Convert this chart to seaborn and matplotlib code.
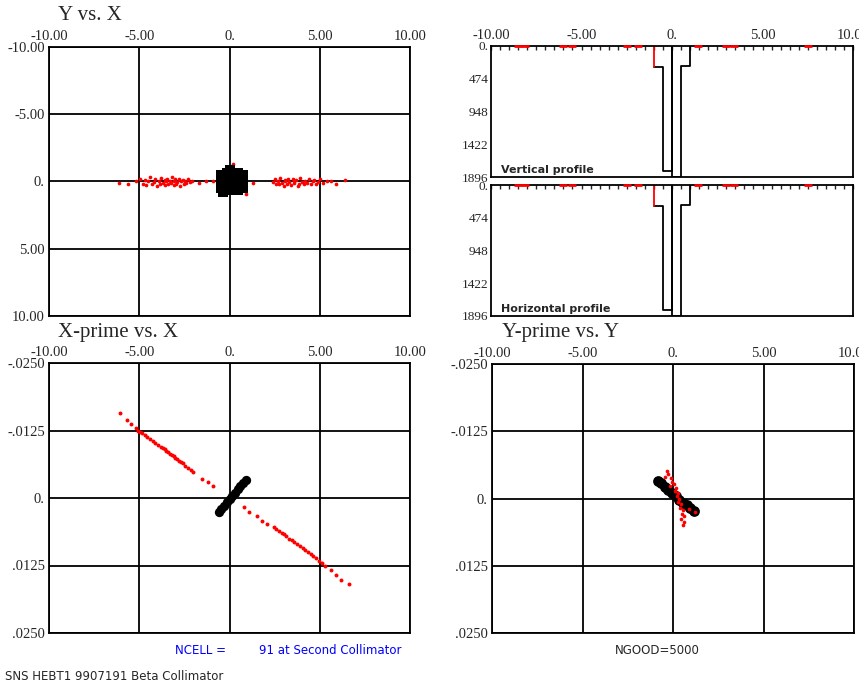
import matplotlib
matplotlib.use("Agg")
import matplotlib.pyplot as plt
from matplotlib.ticker import MultipleLocator
import seaborn as sns

# ---- data ----
pos_ticks = [-10, -5, 0, 5, 10]
pos_labels = ["-10.00", "-5.00", "0.", "5.00", "10.00"]
ang_ticks = [-0.025, -0.0125, 0.0, 0.0125, 0.025]
ang_labels = ["-.0250", "-.0125", "0.", ".0125", ".0250"]
prof_ticks = [0, 474, 948, 1422, 1896]
prof_labels = ["0.", "474", "948", "1422", "1896"]

# Y vs X : red halo particles (two lobes) and black core
yx_red_x = [-6.1, -5.6, -5.2, -4.95, -4.8, -4.7, -4.6, -4.5, -4.4, -4.3, -4.2, -4.1,
            -4.0, -3.9, -3.85, -3.8, -3.7, -3.6, -3.55, -3.5, -3.45, -3.4, -3.3,
            -3.25, -3.2, -3.1, -3.05, -3.0, -2.95, -2.9, -2.8, -2.75, -2.7, -2.6,
            -2.5, -2.45, -2.4, -2.3, -2.2, -2.1, -1.7, -1.3,
            2.4, 2.5, 2.6, 2.7, 2.75, 2.8, 2.9, 3.0, 3.05, 3.1, 3.2, 3.25, 3.3,
            3.4, 3.5, 3.55, 3.6, 3.7, 3.8, 3.85, 3.9, 4.0, 4.1, 4.2, 4.3, 4.4,
            4.5, 4.6, 4.7, 4.8, 4.9, 5.0, 5.2, 5.4, 5.6, 5.9, 6.4,
            -0.9, 1.3, 0.9, 0.2]
yx_red_y = [0.1, 0.2, 0.0, -0.2, 0.15, -0.1, 0.25, 0.0, -0.3, 0.2, 0.05, -0.15,
            0.3, -0.05, 0.15, -0.25, 0.1, -0.1, 0.25, 0.0, -0.2, 0.2, -0.05,
            0.1, -0.3, 0.25, 0.0, -0.15, 0.15, 0.05, -0.2, 0.3, 0.0, -0.1,
            0.2, -0.05, 0.1, -0.2, 0.05, 0.0, 0.1, -0.05,
            0.05, -0.2, 0.2, -0.05, 0.15, -0.25, 0.1, 0.3, -0.1, 0.0, 0.2, -0.15,
            0.05, 0.25, -0.2, 0.1, 0.0, -0.1, 0.3, 0.15, -0.25, 0.05, 0.2,
            -0.05, 0.1, -0.2, 0.15, 0.0, -0.1, 0.2, 0.05, -0.15, 0.1, 0.0,
            -0.05, 0.15, -0.1, 0.0, 0.1, 0.9, -1.3]
yx_core_x = [-0.45, -0.45, -0.45, -0.45, -0.15, -0.15, -0.15, -0.15, -0.15,
             0.15, 0.15, 0.15, 0.15, 0.15, 0.45, 0.45, 0.45, 0.45, 0.45,
             0.75, 0.75, 0.75, 0.75, -0.35, 0.05]
yx_core_y = [-0.45, -0.1, 0.2, 0.5, -0.6, -0.3, 0.0, 0.3, 0.6,
             -0.65, -0.3, 0.0, 0.3, 0.6, -0.6, -0.3, 0.0, 0.3, 0.6,
             -0.45, -0.1, 0.2, 0.5, 0.75, -0.85]

# X-prime vs X
xp_red_x = [-6.06, -5.7, -5.45, -5.2, -5.05, -4.95, -4.85, -4.7, -4.55, -4.4,
            -4.25, -4.1, -3.95, -3.8, -3.7, -3.6, -3.5, -3.4, -3.3, -3.2, -3.1,
            -3.0, -2.9, -2.8, -2.7, -2.6, -2.45, -2.3, -2.15, -2.0,
            -1.5, -1.2, -0.9, 0.8, 1.1, 1.5, 1.8, 2.1,
            2.45, 2.6, 2.75, 2.9, 3.0, 3.15, 3.3, 3.45, 3.6, 3.75, 3.9, 4.05,
            4.2, 4.35, 4.5, 4.65, 4.8, 4.95, 5.1, 5.3, 5.6, 5.9, 6.2, 6.6]
xp_red_y = [-0.0157, -0.0145, -0.0137, -0.0129, -0.0124, -0.0123, -0.0120,
            -0.0117, -0.0113, -0.0110, -0.0106, -0.0102, -0.0099, -0.0095,
            -0.0093, -0.0090, -0.0087, -0.0085, -0.0082, -0.0079, -0.0077,
            -0.0074, -0.0072, -0.0069, -0.0066, -0.0064, -0.0060, -0.0056,
            -0.0052, -0.0049,
            -0.0036, -0.0030, -0.0022, 0.0017, 0.0025, 0.0034, 0.0042, 0.0048,
            0.0053, 0.0057, 0.0061, 0.0065, 0.0067, 0.0071, 0.0075, 0.0078,
            0.0082, 0.0086, 0.0089, 0.0093, 0.0097, 0.0100, 0.0104, 0.0108,
            0.0112, 0.0116, 0.0121, 0.0126, 0.0134, 0.0143, 0.0151, 0.0160]
xp_core_x = [-0.6, -0.45, -0.3, -0.15, 0.0, 0.15, 0.3, 0.45, 0.6, 0.75, 0.9]
xp_core_y = [0.0026, 0.0020, 0.0014, 0.0008, 0.0002, -0.0004, -0.0010,
             -0.0016, -0.0022, -0.0028, -0.0033]

# Y-prime vs Y
yp_red_x = [-0.35, -0.25, -0.45, -0.1, -0.05, 0.05, -0.15, 0.15, 0.1, 0.25,
            0.2, 0.35, 0.3, 0.45, 0.4, 0.55, 0.5, 0.6, 0.45, 0.6, 0.55, 1.2, 0.9]
yp_red_y = [-0.0052, -0.0045, -0.0040, -0.0038, -0.0031, -0.0027, -0.0024,
            -0.0020, -0.0014, -0.0010, -0.0004, 0.0001, 0.0007, 0.0011, 0.0017,
            0.0022, 0.0028, 0.0033, 0.0038, 0.0044, 0.0049, 0.0026, 0.0020]
yp_core_x = [-0.85, -0.65, -0.45, -0.25, -0.05, 0.15, 0.35, 0.55, 0.75, 0.95, 1.15]
yp_core_y = [-0.0033, -0.0028, -0.0022, -0.0016, -0.0010, -0.0004, 0.0002,
             0.0008, 0.0013, 0.0018, 0.0023]

# beam profiles (bin edges and counts, drawn hanging from the top)
prof_edges = [-1.0, -0.5, 0.0, 0.0, 0.5, 1.0]
prof_counts = [304, 1808, 0, 1896, 289]
prof_red_x = [-8.5, -8.1, -6.0, -5.5, -2.5, -1.9, 1.45, 3.0, 3.4, 7.5]

sns.set_style("white")
plt.rcParams["font.family"] = ["Liberation Serif", "DejaVu Serif"]

fig = plt.figure(figsize=(8.59, 6.85), dpi=100)
W, H = 859, 685


def add_axes(left, top, right, bottom):
    return fig.add_axes([left / W, 1 - bottom / H, (right - left) / W, (bottom - top) / H])


def style_scatter_axes(ax, yticks, ylabels, ylim):
    ax.set_xlim(-10, 10)
    ax.set_ylim(*ylim)
    ax.set_xticks(pos_ticks)
    ax.set_xticklabels(pos_labels)
    ax.set_yticks(yticks)
    ax.set_yticklabels(ylabels)
    ax.xaxis.tick_top()
    ax.tick_params(axis="both", length=0, labelsize=10.5, pad=3)
    ax.grid(True, color="black", linewidth=1.3)
    for s in ax.spines.values():
        s.set_color("black")
        s.set_linewidth(1.3)
    ax.set_xlabel("")
    ax.set_ylabel("")


# ---- Y vs X ----
ax1 = add_axes(49, 47, 410, 316)
sns.scatterplot(x=yx_red_x, y=yx_red_y, color="red", s=7, linewidth=0, ax=ax1, legend=False)
sns.scatterplot(x=yx_core_x, y=yx_core_y, color="black", s=60, marker="s", linewidth=0,
                ax=ax1, legend=False)
style_scatter_axes(ax1, pos_ticks, pos_labels, (10, -10))

# ---- X-prime vs X ----
ax3 = add_axes(49, 363, 410, 633)
sns.scatterplot(x=xp_red_x, y=xp_red_y, color="red", s=8, linewidth=0, ax=ax3, legend=False)
sns.scatterplot(x=xp_core_x, y=xp_core_y, color="black", s=45, linewidth=0, ax=ax3, legend=False)
style_scatter_axes(ax3, ang_ticks, ang_labels, (0.025, -0.025))

# ---- Y-prime vs Y ----
ax4 = add_axes(492, 364, 854, 633)
sns.scatterplot(x=yp_core_x, y=yp_core_y, color="black", s=60, linewidth=0, ax=ax4, legend=False)
sns.scatterplot(x=yp_red_x, y=yp_red_y, color="red", s=7, linewidth=0, ax=ax4, legend=False)
style_scatter_axes(ax4, ang_ticks, ang_labels, (0.025, -0.025))

# ---- profiles ----
for top, bottom, name, show_x in [(46, 177, "Vertical profile", True),
                                  (185, 316, "Horizontal profile", False)]:
    ax = add_axes(491, top, 853, bottom)
    sns.lineplot(x=prof_edges, y=prof_counts + [0], estimator=None, sort=False,
                 drawstyle="steps-post", color="black", linewidth=1.3, ax=ax)
    sns.lineplot(x=[prof_edges[0], prof_edges[0]], y=[0, prof_counts[0]], estimator=None,
                 sort=False, color="red", linewidth=1.3, ax=ax)
    sns.scatterplot(x=prof_red_x, y=[0] * len(prof_red_x), color="red", marker="_", s=30,
                    linewidth=2, ax=ax, legend=False, clip_on=False, zorder=5)
    ax.set_xlim(-10, 10)
    ax.set_ylim(1896, 0)
    ax.set_xticks(pos_ticks)
    ax.set_xticklabels(pos_labels if show_x else [])
    ax.xaxis.set_minor_locator(MultipleLocator(0.5))
    ax.xaxis.tick_top()
    ax.tick_params(axis="x", which="both", direction="in", length=3, width=1,
                   labelsize=10.5, pad=3, top=True, bottom=False)
    ax.set_yticks(prof_ticks)
    ax.set_yticklabels(prof_labels)
    ax.tick_params(axis="y", length=0, labelsize=9.5, pad=2)
    for s in ax.spines.values():
        s.set_color("black")
        s.set_linewidth(1.3)
    ax.set_xlabel("")
    ax.set_ylabel("")
    ax.text(0.028, 0.05, name, transform=ax.transAxes, fontsize=8, family="DejaVu Sans",
            fontweight="bold", va="center", ha="left")

# ---- titles and notes ----
fig.text(58 / W, 1 - 16 / H, "Y vs. X", fontsize=15, va="center", ha="left")
fig.text(58 / W, 1 - 333 / H, "X-prime vs. X", fontsize=15, va="center", ha="left")
fig.text(502 / W, 1 - 333 / H, "Y-prime vs. Y", fontsize=15, va="center", ha="left")
fig.text(175 / W, 1 - 651 / H, "NCELL =", fontsize=8.5, color="blue", family="DejaVu Sans",
         va="center", ha="left")
fig.text(259 / W, 1 - 651 / H, "91 at Second Collimator", fontsize=8.5, color="blue",
         family="DejaVu Sans", va="center", ha="left")
fig.text(657 / W, 1 - 651 / H, "NGOOD=5000", fontsize=8.5, family="DejaVu Sans",
         va="center", ha="center")
fig.text(5 / W, 1 - 677 / H, "SNS HEBT1 9907191 Beta Collimator", fontsize=8.5,
         family="DejaVu Sans", va="center", ha="left")

fig.savefig("out.png", dpi=100, facecolor="white")
